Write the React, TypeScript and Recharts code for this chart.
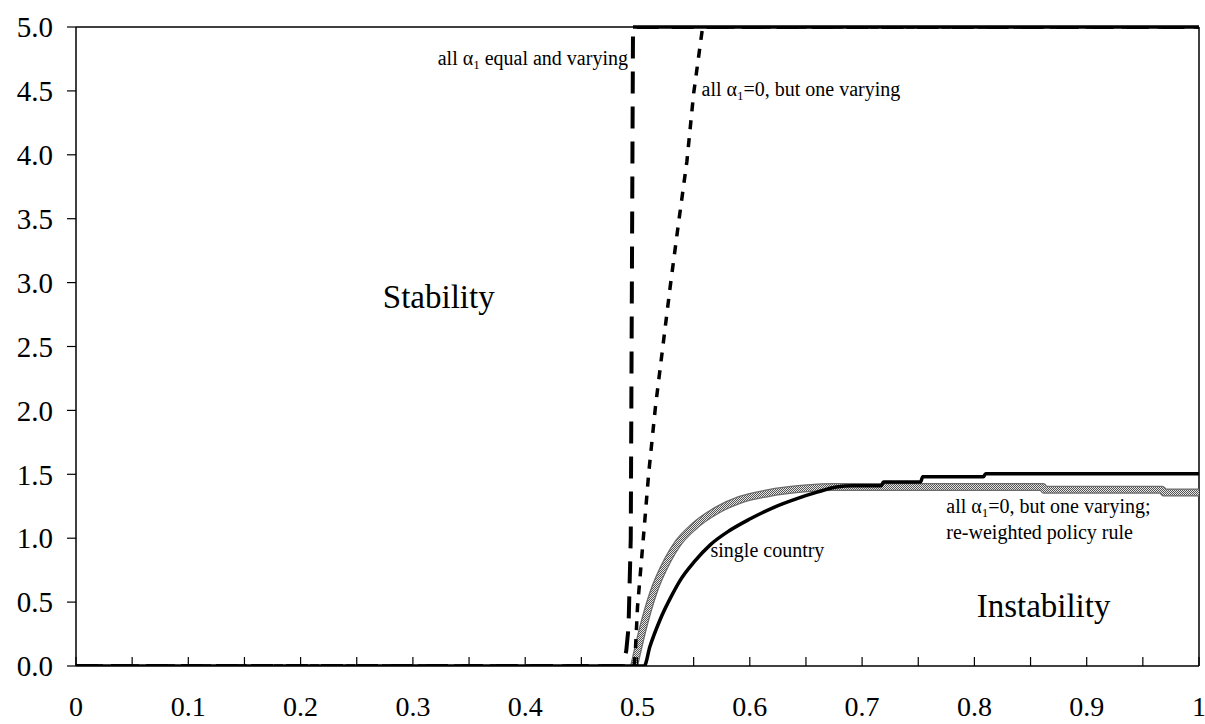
import { LineChart, Line, XAxis, YAxis, ReferenceLine, ReferenceDot } from 'recharts'

const FONT = '"Liberation Serif", "Times New Roman", Times, serif'

// axis ticks: marks every 0.05, labels every 0.1
const xTicks = [0, 0.05, 0.1, 0.15, 0.2, 0.25, 0.3, 0.35, 0.4, 0.45, 0.5, 0.55, 0.6, 0.65, 0.7, 0.75, 0.8, 0.85, 0.9, 0.95, 1]
const yTicks = [0, 0.5, 1, 1.5, 2, 2.5, 3, 3.5, 4, 4.5, 5]

// all alpha_1 equal and varying (long dashes)
const equalX = [0, 0.487, 0.49, 0.492, 0.494, 0.495, 0.496, 1]
const equalY = [0, 0, 0.12, 0.3, 1.0, 3.0, 5, 5]

// all alpha_1 = 0, but one varying (short dashes)
const oneX = [0, 0.497, 0.498, 0.5, 0.505, 0.51, 0.516, 0.523, 0.529, 0.536, 0.544, 0.55, 0.558, 1]
const oneY = [0, 0, 0.1, 0.46, 0.98, 1.51, 2.03, 2.53, 2.96, 3.43, 3.95, 4.48, 5, 5]

// re-weighted policy rule (grey band)
const reweightX = [0.497, 0.505, 0.514, 0.527, 0.536, 0.55, 0.571, 0.591, 0.615, 0.651, 0.674, 0.861, 0.862, 0.967, 0.969, 1]
const reweightY = [0, 0.3, 0.57, 0.83, 0.96, 1.09, 1.22, 1.3, 1.35, 1.39, 1.4, 1.4, 1.38, 1.38, 1.357, 1.357]

// single country (solid)
const singleX = [0, 0.506, 0.511, 0.52, 0.531, 0.538, 0.551, 0.565, 0.582, 0.6, 0.621, 0.642, 0.66, 0.677, 0.692, 0.717, 0.719, 0.752, 0.754, 0.808, 0.81, 1]
const singleY = [0, 0, 0.15, 0.36, 0.56, 0.67, 0.82, 0.95, 1.06, 1.15, 1.24, 1.31, 1.36, 1.4, 1.41, 1.41, 1.44, 1.44, 1.48, 1.48, 1.505, 1.505]

const toPoints = (xs: number[], ys: number[]) => xs.map((x, i) => ({ x, y: ys[i] }))

const equal = toPoints(equalX, equalY)
const one = toPoints(oneX, oneY)
const reweight = toPoints(reweightX, reweightY)
const single = toPoints(singleX, singleY)

// where both capped series run along the top edge
const capStart = equal[equal.length - 2]
const capEnd = equal[equal.length - 1]

function XTick({ x, y, payload }: any) {
    const v = payload.value
    const labelled = Math.abs(v * 10 - Math.round(v * 10)) < 1e-6
    return (
        <g>
            <line x1={x} x2={x} y1={y} y2={y - 9} stroke="#000" strokeWidth={1.2} />
            {labelled && (
                <text x={x} y={y + 50} textAnchor="middle" fontSize={28} fontFamily={FONT} fill="#000">
                    {String(Math.round(v * 10) / 10)}
                </text>
            )}
        </g>
    )
}

const sub = (s: string) => <tspan fontSize={13} dy={4}>{s}</tspan>

function Note({ viewBox, kind }: any) {
    const x = viewBox.x
    const y = viewBox.y
    const common = { fontFamily: FONT, fill: '#000' }
    if (kind === 'equal') {
        return (
            <text x={x} y={y} textAnchor="end" fontSize={20} {...common}>
                all α{sub('1')}<tspan dy={-4}> equal and varying</tspan>
            </text>
        )
    }
    if (kind === 'one') {
        return (
            <text x={x} y={y} fontSize={20} {...common}>
                all α{sub('1')}<tspan dy={-4}>=0, but one varying</tspan>
            </text>
        )
    }
    if (kind === 'reweight') {
        return (
            <text x={x} y={y} fontSize={20} {...common}>
                <tspan>all α</tspan>{sub('1')}<tspan dy={-4}>=0, but one varying;</tspan>
                <tspan x={x} dy={26}>re-weighted policy rule</tspan>
            </text>
        )
    }
    if (kind === 'single') {
        return <text x={x} y={y} fontSize={20} {...common}>single country</text>
    }
    if (kind === 'stable') {
        return <text x={x} y={y} textAnchor="middle" fontSize={33} {...common}>Stability</text>
    }
    return <text x={x} y={y} fontSize={33} {...common}>Instability</text>
}

const notes = [
    { kind: 'equal', x: 0.4915, y: 4.7 },
    { kind: 'one', x: 0.557, y: 4.46 },
    { kind: 'stable', x: 0.323, y: 2.8 },
    { kind: 'single', x: 0.565, y: 0.85 },
    { kind: 'reweight', x: 0.775, y: 1.195 },
    { kind: 'unstable', x: 0.802, y: 0.38 },
]

export default function App() {
    return (
        <div style={{ position: 'absolute', left: 0, top: 0, background: '#fff' }}>
            <LineChart
                width={1205}
                height={724}
                margin={{ top: 27, right: 6, bottom: 0, left: 0 }}
                style={{ fontFamily: FONT }}
            >
                <defs>
                    <pattern id="hatch" width="2" height="2" patternUnits="userSpaceOnUse">
                        <rect width="2" height="2" fill="#e6e6e6" />
                        <rect width="1" height="1" fill="#555" />
                        <rect x="1" y="1" width="1" height="1" fill="#555" />
                    </pattern>
                </defs>
                <XAxis
                    type="number"
                    dataKey="x"
                    domain={[0, 1]}
                    ticks={xTicks}
                    interval={0}
                    tick={<XTick />}
                    tickLine={false}
                    tickSize={0}
                    tickMargin={0}
                    height={58}
                    axisLine={{ stroke: '#000', strokeWidth: 1.5 }}
                    allowDataOverflow
                />
                <YAxis
                    type="number"
                    domain={[0, 5]}
                    ticks={yTicks}
                    interval={0}
                    width={76}
                    tickSize={9}
                    tickMargin={14}
                    tickFormatter={(v: number) => v.toFixed(1)}
                    tick={{ fill: '#000', fontSize: 29, fontFamily: FONT }}
                    tickLine={{ stroke: '#000', strokeWidth: 1.2 }}
                    axisLine={{ stroke: '#000', strokeWidth: 1.5 }}
                    allowDataOverflow
                />
                <ReferenceLine y={5} stroke="#000" strokeWidth={1.5} />
                <ReferenceLine x={1} stroke="#000" strokeWidth={1.5} />
                <ReferenceLine
                    segment={[{ x: capStart.x, y: capStart.y }, { x: capEnd.x, y: capEnd.y }]}
                    stroke="#000"
                    strokeWidth={3.5}
                />
                <Line data={reweight} dataKey="y" type="monotone" stroke="#6b6b6b" strokeWidth={8} dot={false} isAnimationActive={false} />
                <Line data={reweight} dataKey="y" type="monotone" stroke="url(#hatch)" strokeWidth={5.5} dot={false} isAnimationActive={false} />
                <Line data={single} dataKey="y" type="monotone" stroke="#000" strokeWidth={3.5} dot={false} isAnimationActive={false} />
                <Line data={one} dataKey="y" type="linear" stroke="#000" strokeWidth={3.5} strokeDasharray="9 9" dot={false} isAnimationActive={false} />
                <Line data={equal} dataKey="y" type="linear" stroke="#000" strokeWidth={4} strokeDasharray="22 13" dot={false} isAnimationActive={false} />
                {notes.map(n => (
                    <ReferenceDot
                        key={n.kind}
                        x={n.x}
                        y={n.y}
                        r={0}
                        fill="none"
                        stroke="none"
                        label={<Note kind={n.kind} />}
                    />
                ))}
            </LineChart>
        </div>
    )
}
